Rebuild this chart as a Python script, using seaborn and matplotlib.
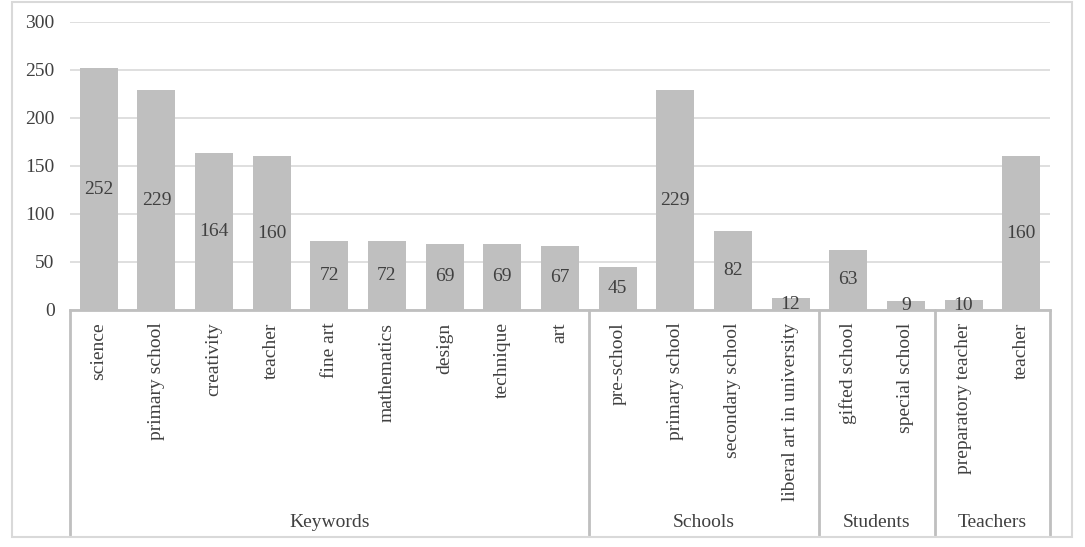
import pandas as pd
import matplotlib.pyplot as plt
import seaborn as sns
from matplotlib.patches import Rectangle

# chart data
groups = ["Keywords", "Schools", "Students", "Teachers"]
group_sizes = [9, 4, 2, 2]
labels = ["science", "primary school", "creativity", "teacher", "fine art",
          "mathematics", "design", "technique", "art",
          "pre-school", "primary school", "secondary school", "liberal art in university",
          "gifted school", "special school",
          "preparatory teacher", "teacher"]
values = [252, 229, 164, 160, 72, 72, 69, 69, 67,
          45, 229, 82, 12,
          63, 9,
          10, 160]
yticks = [0, 50, 100, 150, 200, 250, 300]

# some labels repeat, so use a unique key per bar
group_col = []
for g, n in zip(groups, group_sizes):
    group_col += [g] * n
df = pd.DataFrame({"group": group_col, "label": labels, "value": values})
df["key"] = df["group"] + "|" + df["label"]

sns.set_style("white")
plt.rcParams["font.family"] = ["Liberation Serif", "DejaVu Serif"]

text_col = "#404040"
line_col = "#bfbfbf"

fig = plt.figure(figsize=(10.85, 5.47), dpi=100)
ax = fig.add_axes([70 / 1085, 1 - 310 / 547, 980 / 1085, 288 / 547])

sns.barplot(data=df, x="key", y="value", order=df["key"], color="#bfbfbf",
            saturation=1, width=0.66, edgecolor="none", ax=ax, zorder=2)

ax.bar_label(ax.containers[0], label_type="center", fontsize=14, color=text_col)

ax.set_xlim(-0.5, len(values) - 0.5)
ax.set_ylim(0, 300)
ax.set_yticks(yticks)
ax.set_yticklabels([str(t) for t in yticks], fontsize=14, color=text_col)
ax.yaxis.grid(True, color="#d9d9d9", linewidth=1.2, zorder=0)
ax.set_axisbelow(True)
ax.tick_params(axis="y", length=0, pad=11)

ax.set_xticks(range(len(labels)))
ax.set_xticklabels(labels, rotation=90, fontsize=14, color=text_col, va="top", ha="center")
ax.tick_params(axis="x", length=0, pad=9)
ax.set_xlabel("")
ax.set_ylabel("")

for side in ["left", "right", "top"]:
    ax.spines[side].set_visible(False)
ax.spines["bottom"].set_color(line_col)
ax.spines["bottom"].set_linewidth(2)

# group separators and group names under the category labels
trans = ax.get_xaxis_transform()
edges = [-0.5]
for n in group_sizes:
    edges.append(edges[-1] + n)
for e in edges:
    ax.plot([e, e], [0, -0.78], transform=trans, color=line_col, lw=2, clip_on=False)
for g, a, b in zip(groups, edges[:-1], edges[1:]):
    ax.text((a + b) / 2, -0.738, g, transform=trans, ha="center", va="center",
            fontsize=14, color=text_col)

# outer chart border
fig.patches.append(Rectangle((12 / 1085, 10 / 547), 1060 / 1085, 535 / 547,
                             transform=fig.transFigure, fill=False,
                             edgecolor="#d9d9d9", linewidth=1.5))

fig.savefig("out.png", dpi=100)
